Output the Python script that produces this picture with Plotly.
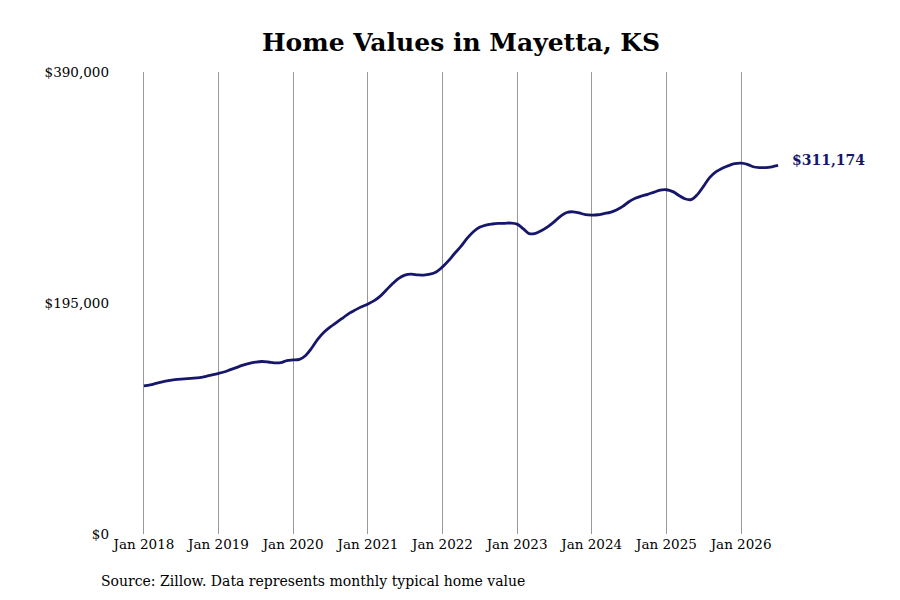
import pandas as pd
import plotly.graph_objects as go

# monthly typical home value, Jan 2018 - Jul 2026
months = pd.date_range("2018-01-01", "2026-07-01", freq="MS")
values = [
    125000, 125800, 127200, 128500, 129500, 130300, 130800, 131100, 131500, 132100, 133100, 134300,
    135500, 137000, 138800, 140700, 142500, 144000, 145000, 145600, 145200, 144500, 144600, 146300,
    146900, 147400, 150500, 157000, 164500, 170500, 174800, 178600, 182500, 186300, 189200, 191800,
    194200, 197000, 200600, 206000, 211200, 215800, 218500, 219300, 218800, 218600, 219300, 221200,
    225500, 231000, 236800, 242800, 249500, 255200, 258900, 260800, 261700, 262200, 262300, 262500,
    261600, 257500, 253500, 253800, 256200, 259500, 263500, 268200, 271400, 272000, 271000, 269600,
    269200, 269500, 270500, 271500, 273500, 276500, 280500, 283400, 285300, 286700, 288600, 290300,
    290600, 289000, 286000, 283000, 282300, 286500, 293500, 301000, 305800, 308800, 311000, 312600,
    313000, 312000, 310000, 309300, 309300, 310000, 311174,
]
y_ticks = [0, 195000, 390000]
y_tick_text = ["$0", "$195,000", "$390,000"]
x_ticks = pd.date_range("2018-01-01", "2026-01-01", freq="YS")
x_tick_text = [d.strftime("Jan %Y") for d in x_ticks]

navy = "#16166b"
font = "DejaVu Serif"

fig = go.Figure()
fig.add_trace(go.Scatter(
    x=months, y=values, mode="lines",
    line=dict(color=navy, width=2.8, shape="spline"),
    hoverinfo="skip", showlegend=False,
))

# page body has an 8px margin, so the figure is a bit smaller than the window
pad = pd.Timedelta(days=166)
fig.update_layout(
    width=884, height=584,
    paper_bgcolor="white", plot_bgcolor="white",
    margin=dict(l=102, r=80, t=64, b=58),
    font=dict(family=font, size=13.5, color="black"),
    title=dict(text="<b>Home Values in Mayetta, KS</b>", x=0.5, xref="paper",
               y=0.942, yref="container", xanchor="center", yanchor="middle",
               font=dict(family=font, size=25, color="black")),
    xaxis=dict(range=[months[0] - pad, months[-1] + pad],
               tickvals=x_ticks, ticktext=x_tick_text,
               showgrid=True, gridcolor="#999999", gridwidth=1,
               showline=False, zeroline=False, ticks="",
               tickfont=dict(family=font, size=13.5)),
    yaxis=dict(range=[0, 390000], tickvals=y_ticks, ticktext=y_tick_text,
               showgrid=False, zeroline=False, showline=False, ticks="",
               tickfont=dict(family=font, size=13.5)),
)

fig.add_annotation(
    x=months[-1], y=values[-1], text="<b>$311,174</b>",
    showarrow=False, xanchor="left", xshift=12, yshift=5,
    font=dict(family=font, size=14, color=navy),
)
fig.add_annotation(
    x=-0.0157, y=-0.1017, xref="paper", yref="paper",
    text="Source: Zillow. Data represents monthly typical home value",
    showarrow=False, xanchor="left", yanchor="middle",
    font=dict(family=font, size=14, color="black"),
)

fig.write_html("out.html")
